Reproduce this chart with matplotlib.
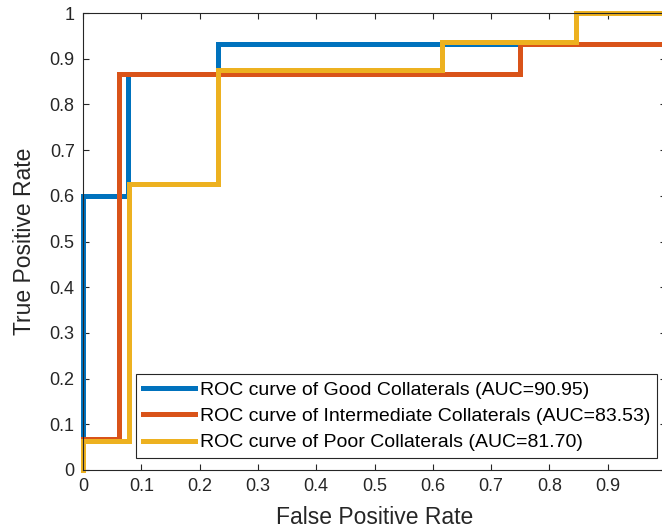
import matplotlib
matplotlib.use("Agg")
import matplotlib.pyplot as plt

plt.rcParams['font.family'] = ['Liberation Sans', 'DejaVu Sans']

# ROC step curves (FPR, TPR)
good_fpr = [0, 0, 0.077, 0.077, 0.231, 0.231, 1.0]
good_tpr = [0, 0.6, 0.6, 0.867, 0.867, 0.933, 0.933]

inter_fpr = [0, 0, 0.0625, 0.0625, 0.75, 0.75, 1.0]
inter_tpr = [0, 0.067, 0.067, 0.867, 0.867, 0.933, 0.933]

poor_fpr = [0, 0, 0.079, 0.079, 0.231, 0.231, 0.615, 0.615, 0.846, 0.846, 1.0]
poor_tpr = [0, 0.0625, 0.0625, 0.625, 0.625, 0.875, 0.875, 0.9375, 0.9375, 1.0, 1.0]

labels = ["ROC curve of Good Collaterals (AUC=90.95)",
          "ROC curve of Intermediate Collaterals (AUC=83.53)",
          "ROC curve of Poor Collaterals (AUC=81.70)"]
colors = ["#0072BD", "#D95319", "#EDB120"]

xticks = [0, 0.1, 0.2, 0.3, 0.4, 0.5, 0.6, 0.7, 0.8, 0.9, 1]
yticks = [0, 0.1, 0.2, 0.3, 0.4, 0.5, 0.6, 0.7, 0.8, 0.9, 1]

fig = plt.figure(figsize=(6.62, 5.31), dpi=100)
ax = fig.add_axes([83/662, 1-470/531, 583/662, 457/531])

for fx, ty, c, lab in zip([good_fpr, inter_fpr, poor_fpr],
                          [good_tpr, inter_tpr, poor_tpr], colors, labels):
    ax.plot(fx, ty, color=c, lw=3.6, label=lab, solid_joinstyle='miter',
            clip_on=False)

ax.set_xlim(0, 1)
ax.set_ylim(0, 1)
ax.set_xticks(xticks)
ax.set_yticks(yticks)
ax.set_xticklabels([f"{v:g}" for v in xticks])
ax.set_yticklabels([f"{v:g}" for v in yticks])
ax.tick_params(direction='in', length=4, width=0.8, top=True, right=True,
               labelsize=13, colors='#262626', pad=6)
for s in ax.spines.values():
    s.set_color('#262626')
    s.set_linewidth(0.8)

ax.set_xlabel("False Positive Rate", fontsize=16.5, color='#262626', labelpad=8)
ax.set_ylabel("True Positive Rate", fontsize=16.5, color='#262626', labelpad=10)

leg = ax.legend(loc='lower right', bbox_to_anchor=(0.985, 0.026),
                borderaxespad=0, fontsize=14, fancybox=False,
                edgecolor='#262626', framealpha=1, handlelength=2.7,
                handletextpad=0.26, labelspacing=0.45, borderpad=0.35)
leg.get_frame().set_linewidth(0.8)

fig.savefig("out.png", dpi=100)
